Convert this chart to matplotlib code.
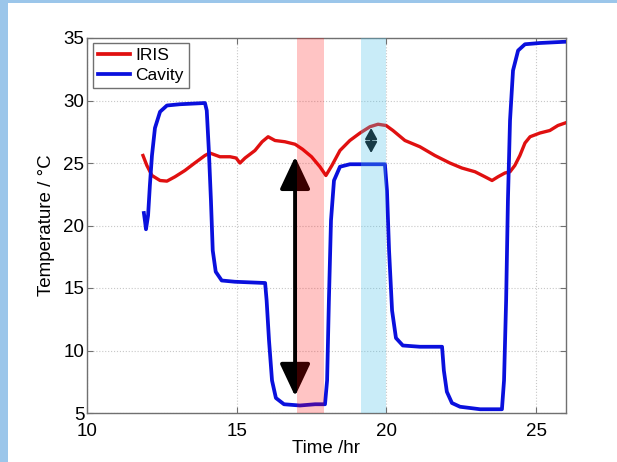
import matplotlib
matplotlib.use("Agg")
import matplotlib.pyplot as plt
from matplotlib.patches import Rectangle

plt.rcParams['font.family'] = ['Liberation Sans', 'DejaVu Sans']

# IRIS sensor temperature (hours, degC)
iris_time = [11.87, 12.0, 12.17, 12.44, 12.67, 12.94, 13.27, 13.6, 13.94, 14.1,
             14.44, 14.78, 14.98, 15.11, 15.28, 15.61, 15.85, 16.05, 16.28, 16.61,
             16.95, 17.2, 17.5, 17.78, 17.98, 18.18, 18.45, 18.78, 19.12, 19.45,
             19.72, 19.99, 20.22, 20.62, 21.12, 21.62, 22.12, 22.52, 22.96, 23.29,
             23.53, 23.73, 23.96, 24.13, 24.29, 24.46, 24.63, 24.8, 25.13, 25.46,
             25.73, 25.97]
iris_temp = [25.6, 24.8, 24.0, 23.6, 23.55, 23.9, 24.4, 25.0, 25.6, 25.8,
             25.5, 25.5, 25.4, 25.0, 25.4, 26.0, 26.7, 27.1, 26.8, 26.7,
             26.5, 26.1, 25.5, 24.7, 24.0, 24.8, 26.0, 26.8, 27.4, 27.9,
             28.1, 28.0, 27.6, 26.8, 26.3, 25.6, 25.0, 24.6, 24.3, 23.9,
             23.6, 23.9, 24.2, 24.3, 24.8, 25.6, 26.6, 27.1, 27.4, 27.6,
             28.0, 28.2]

# Cavity temperature (hours, degC)
cavity_time = [11.9, 11.94, 11.97, 12.04, 12.1, 12.17, 12.27, 12.44, 12.67, 13.1,
               13.94, 14.0, 14.07, 14.14, 14.2, 14.3, 14.5, 14.94, 15.95, 16.0,
               16.08, 16.18, 16.31, 16.58, 17.11, 17.62, 17.95, 18.02, 18.08, 18.15,
               18.25, 18.45, 18.78, 19.95, 20.02, 20.09, 20.19, 20.32, 20.55, 21.12,
               21.86, 21.92, 22.02, 22.19, 22.46, 23.13, 23.86, 23.93, 24.0, 24.06,
               24.13, 24.23, 24.4, 24.63, 25.13, 25.97]
cavity_temp = [21.0, 20.3, 19.7, 20.8, 23.2, 25.6, 27.8, 29.1, 29.6, 29.7,
               29.8, 29.2, 26.0, 22.0, 18.0, 16.3, 15.6, 15.5, 15.4, 14.0,
               10.8, 7.6, 6.2, 5.7, 5.6, 5.7, 5.7, 7.6, 14.0, 20.4,
               23.6, 24.7, 24.9, 24.9, 22.8, 18.0, 13.2, 11.0, 10.4, 10.3,
               10.3, 8.4, 6.7, 5.8, 5.5, 5.3, 5.3, 7.6, 14.0, 22.0,
               28.4, 32.4, 34.0, 34.5, 34.6, 34.7]

# Highlighted time windows (hours)
red_window = (17.0, 17.9)
blue_window = (19.15, 20.0)

# Temperature-difference arrows: (time, low, high)
big_arrow = (16.95, 6.35, 25.5)
small_arrow = (19.49, 25.8, 27.8)

xticks = [10, 15, 20, 25]
yticks = [5, 10, 15, 20, 25, 30, 35]

fig = plt.figure(figsize=(6.17, 4.62), dpi=100)

# light blue frame strips along the top and left edges
fig.patches.append(Rectangle((0, 1 - 3.3 / 462), 1, 3.3 / 462, transform=fig.transFigure,
                             facecolor='#9bc6ea', edgecolor='none', zorder=0))
fig.patches.append(Rectangle((0, 0), 7.5 / 617, 1, transform=fig.transFigure,
                             facecolor='#9bc6ea', edgecolor='none', zorder=0))

ax = fig.add_axes([87 / 617, 49 / 462, 479 / 617, 375 / 462])

ax.plot(iris_time, iris_temp, color='#e01010', lw=2.4, label='IRIS', zorder=3,
        solid_joinstyle='round')
ax.plot(cavity_time, cavity_temp, color='#0a10dd', lw=2.7, label='Cavity', zorder=3,
        solid_joinstyle='round')

for t, lo, hi in [big_arrow]:
    ax.annotate('', xy=(t, lo), xytext=(t, hi),
                arrowprops=dict(arrowstyle='<|-|>,head_length=1.0,head_width=0.47',
                                mutation_scale=20, color='black', lw=2.8,
                                shrinkA=0, shrinkB=0), zorder=4)
for t, lo, hi in [small_arrow]:
    ax.annotate('', xy=(t, lo), xytext=(t, hi),
                arrowprops=dict(arrowstyle='<|-|>,head_length=0.65,head_width=0.36',
                                mutation_scale=10, color='black', lw=1.5,
                                shrinkA=0, shrinkB=0), zorder=4)

ax.axvspan(*red_window, color='#ff0000', alpha=0.23, lw=0, zorder=5)
ax.axvspan(*blue_window, color='#4fc3ea', alpha=0.3, lw=0, zorder=5)

ax.set_xlim(10, 26)
ax.set_ylim(5, 35)
ax.set_xticks(xticks)
ax.set_yticks(yticks)
ax.tick_params(direction='in', length=4, width=0.8, top=True, right=True,
               labelsize=13.5, color='#707070', labelcolor='black')
ax.tick_params(axis='y', pad=2)
ax.tick_params(axis='x', pad=7)
for s in ax.spines.values():
    s.set_color('#707070')
    s.set_linewidth(1.0)
ax.grid(True, linestyle=':', color='#c8c8c8', linewidth=0.8)
ax.set_axisbelow(True)

ax.set_xlabel('Time /hr', fontsize=13.5, labelpad=0)
ax.set_ylabel('Temperature / °C', fontsize=13.5, labelpad=6)

leg = ax.legend(loc='upper left', bbox_to_anchor=(6 / 479, 1 - 5 / 375), borderaxespad=0,
                fontsize=12.5, handlelength=1.85, handletextpad=0.3, labelspacing=0.25,
                borderpad=0.3, fancybox=False, framealpha=1, edgecolor='#707070')
leg.get_frame().set_linewidth(1.0)
for line in leg.get_lines():
    line.set_linewidth(2.7)

fig.savefig('out.png', dpi=100)
